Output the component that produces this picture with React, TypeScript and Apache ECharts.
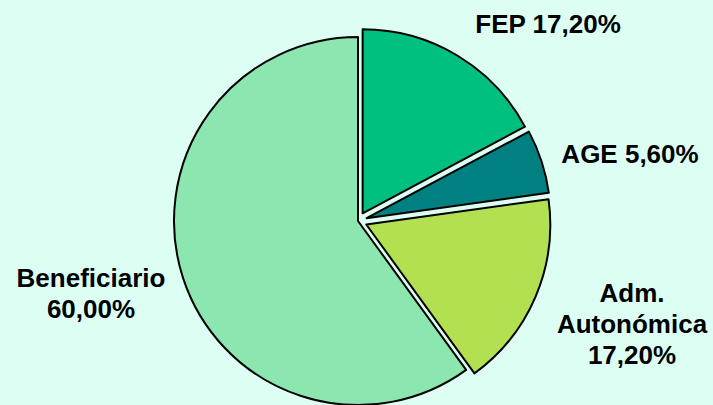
import React, { useEffect, useRef } from "react";
import * as echarts from "echarts";

const categories = ["FEP", "AGE", "Adm.\nAutonómica", "Beneficiario"];
const values = [17.2, 5.6, 17.2, 60.0];
const exploded = [true, true, true, false];
const colors = ["#00C080", "#008080", "#B3E050", "#8CE6B0"];
const labelSeparators = [" ", " ", "\n", "\n"];
const labelPositions: [number, number][] = [
  [548, 24],
  [630, 154],
  [632, 324],
  [91, 293],
];

export default function App() {
  const ref = useRef<HTMLDivElement>(null);
  useEffect(() => {
    if (!ref.current) return;
    const chart = echarts.init(ref.current, undefined, { renderer: "svg" });
    const common = {
      type: "pie",
      center: [358, 221],
      radius: 184,
      startAngle: 90,
      clockwise: true,
      avoidLabelOverlap: false,
      emphasis: { disabled: true },
      labelLine: { show: false },
    };
    chart.setOption({
      animation: false,
      backgroundColor: "#DDFFF3",
      series: [
        {
          ...common,
          selectedMode: "multiple",
          selectedOffset: 9,
          itemStyle: { borderColor: "#000", borderWidth: 2 },
          select: { itemStyle: { borderColor: "#000", borderWidth: 2 } },
          label: { show: false },
          data: categories.map((name, i) => ({
            name,
            value: values[i],
            selected: exploded[i],
            itemStyle: { color: colors[i] },
          })),
        },
        {
          ...common,
          silent: true,
          itemStyle: { color: "rgba(0,0,0,0)", borderWidth: 0 },
          label: {
            show: true,
            position: "inside",
            fontFamily: "Liberation Sans, Arial, sans-serif",
            fontWeight: "bold",
            fontSize: 26,
            lineHeight: 31,
            color: "#000",
            align: "center",
            verticalAlign: "middle",
            formatter: (p: any) =>
              p.name + labelSeparators[p.dataIndex] + p.value.toFixed(2).replace(".", ",") + "%",
          },
          labelLayout: (p: any) => ({
            x: labelPositions[p.dataIndex][0],
            y: labelPositions[p.dataIndex][1],
            align: "center",
            verticalAlign: "middle",
          }),
          data: categories.map((name, i) => ({ name, value: values[i] })),
        },
      ],
    });
    return () => chart.dispose();
  }, []);
  return (
    <div
      ref={ref}
      style={{ position: "fixed", left: 0, top: 0, width: 713, height: 405 }}
    />
  );
}
